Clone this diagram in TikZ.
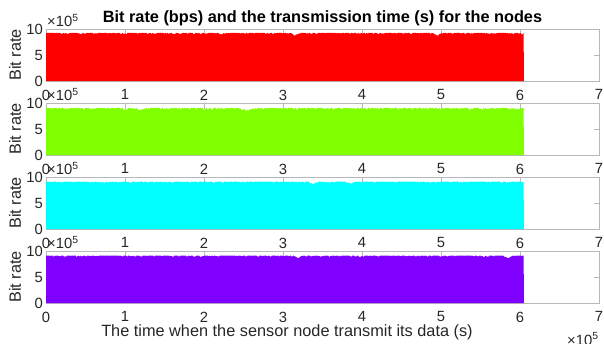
\documentclass[tikz,border=0pt]{standalone}
\usepackage{fontspec}
\setmainfont{Liberation Sans}
\usepackage{tikz}
\definecolor{nodered}{rgb}{1,0,0}
\definecolor{nodegreen}{rgb}{.5,1,0}
\definecolor{nodecyan}{rgb}{0,1,1}
\definecolor{nodepurple}{rgb}{.5,0,1}
\definecolor{axisgray}{rgb}{.72,.72,.72}
\definecolor{textgray}{rgb}{.15,.15,.15}

\begin{document}
\begin{tikzpicture}[x=1pt, y=-1pt,
    ticklabel/.style={inner sep=0pt, text=textgray, font=\fontsize{14.8}{16}\selectfont},
    axislabel/.style={inner sep=0pt, text=textgray, font=\fontsize{16.3}{18}\selectfont},
    boxline/.style={draw=axisgray, line width=0.7pt}]
  % Size of the whole figure
  \useasboundingbox (0,0) rectangle (604,343);
  \clip (0,0) rectangle (604,343);

  % Title
  \node[axislabel, text=black, font=\fontsize{16.3}{18}\selectfont\bfseries, anchor=base] (title) at (322.5,22)
    {Bit rate (bps) and the transmission time (s) for the nodes};

  % One panel for each node
  \foreach \p/\b/\col/\top/\jit/\da/\db in {1/81/nodered/9.25/0.3/3.15/4.95,
      2/155/nodegreen/9.05/0.45/1.19/2.54, 3/229/nodecyan/9.12/0.35/3.38/3.86,
      4/303/nodepurple/9.12/0.3/3.19/5.85}
  {
    \begin{scope}[shift={(46,\b)}, x=79pt, y=5.2pt]
      % Axes box and ticks
      \draw[boxline] (0,0) rectangle (7,10);
      \foreach \k in {1,...,6}
        \draw[boxline] (\k,10) -- ++(0pt,-5.5pt);
      \draw[boxline] (7,5) -- ++(-5.5pt,0pt);

      % Bit rate of the node
      \pgfmathsetseed{\p*1000+7}
      \fill[\col] (0,0) -- plot[samples=500, domain=0:6.05, variable=\t]
        (\t, {\top - \jit*rnd^4 - 0.5*max(0,1-abs(\t-\da)/0.05) - 0.4*max(0,1-abs(\t-\db)/0.06)})
        -- (6.05,0) -- cycle;

      % Tick labels
      \foreach \k in {0,...,7}
        \node[ticklabel, below=8.5pt] (xl\p\k) at (\k,0) {\k};
      \foreach \v in {0,5,10}
        \node[ticklabel, left=3pt] (yl\p\v) at (0,\v) {\v};
      \node[ticklabel, anchor=base west] (ex\p) at ([xshift=1pt,yshift=2.5pt]0,10) {×10\textsuperscript{5}};

      % Axis label
      \node[axislabel, rotate=90] (yt\p) at ([xshift=-31pt]0,5) {Bit rate};
    \end{scope}
  }

  % Time axis
  \node[axislabel, anchor=base] (xlab) at (287,336) {The time when the sensor node transmit its data (s)};
  \node[ticklabel, anchor=base west] (xex) at (567,345) {×10\textsuperscript{5}};
\end{tikzpicture}
\end{document}
